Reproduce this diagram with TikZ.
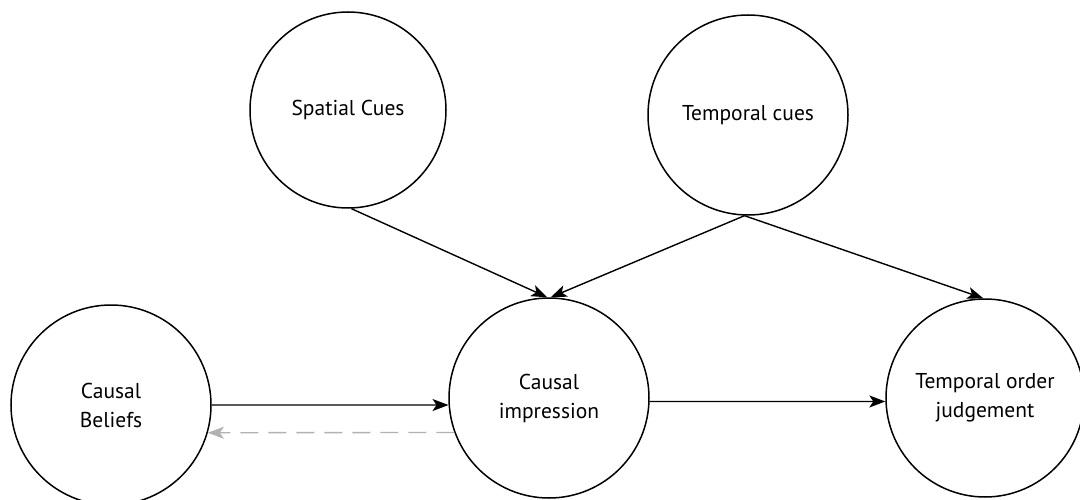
\documentclass[tikz,border=0pt]{standalone}
\usepackage{fontspec}
\setmainfont{PT Sans}
\usetikzlibrary{arrows.meta}
\begin{document}
\begin{tikzpicture}[x=1pt,y=1pt,
  concept/.style={circle, draw=black, line width=1.5pt, inner sep=0pt,
    minimum size=#1, align=center, font=\fontsize{21.5}{29}\selectfont},
  link/.style={line width=1.4pt, -{Stealth[length=16pt,width=12pt,inset=4pt]}},
  feedback/.style={line width=1.4pt, draw=black!30, dash pattern=on 18pt off 10pt,
    -{Stealth[length=16pt,width=12pt,inset=4pt,fill=black!30]}}]
  \useasboundingbox (0,0) rectangle (1080,499);
  \fill[white] (0,0) rectangle (1080,499);

  \node[concept=196pt] (sp) at (348,389) {Spatial Cues};
  \node[concept=200pt] (tc) at (748,384) {Temporal cues};
  \node[concept=200pt] (cb) at (111,94) {Causal\\Beliefs};
  \node[concept=200pt] (ci) at (549,101) {Causal\\impression};
  \node[concept=198pt] (tj) at (985,101) {Temporal order\\judgement};

  \draw[link] (sp.-88) -- (ci.91);
  \draw[link] (tc.-92) -- (ci.89);
  \draw[link] (tc.-92) -- (tj.91);
  \draw[link] (cb.0) -- (ci.184);
  \draw[link] (ci.-2) -- (tj.182);
  \draw[feedback] (ci.200) -- (cb.-16);
\end{tikzpicture}
\end{document}
